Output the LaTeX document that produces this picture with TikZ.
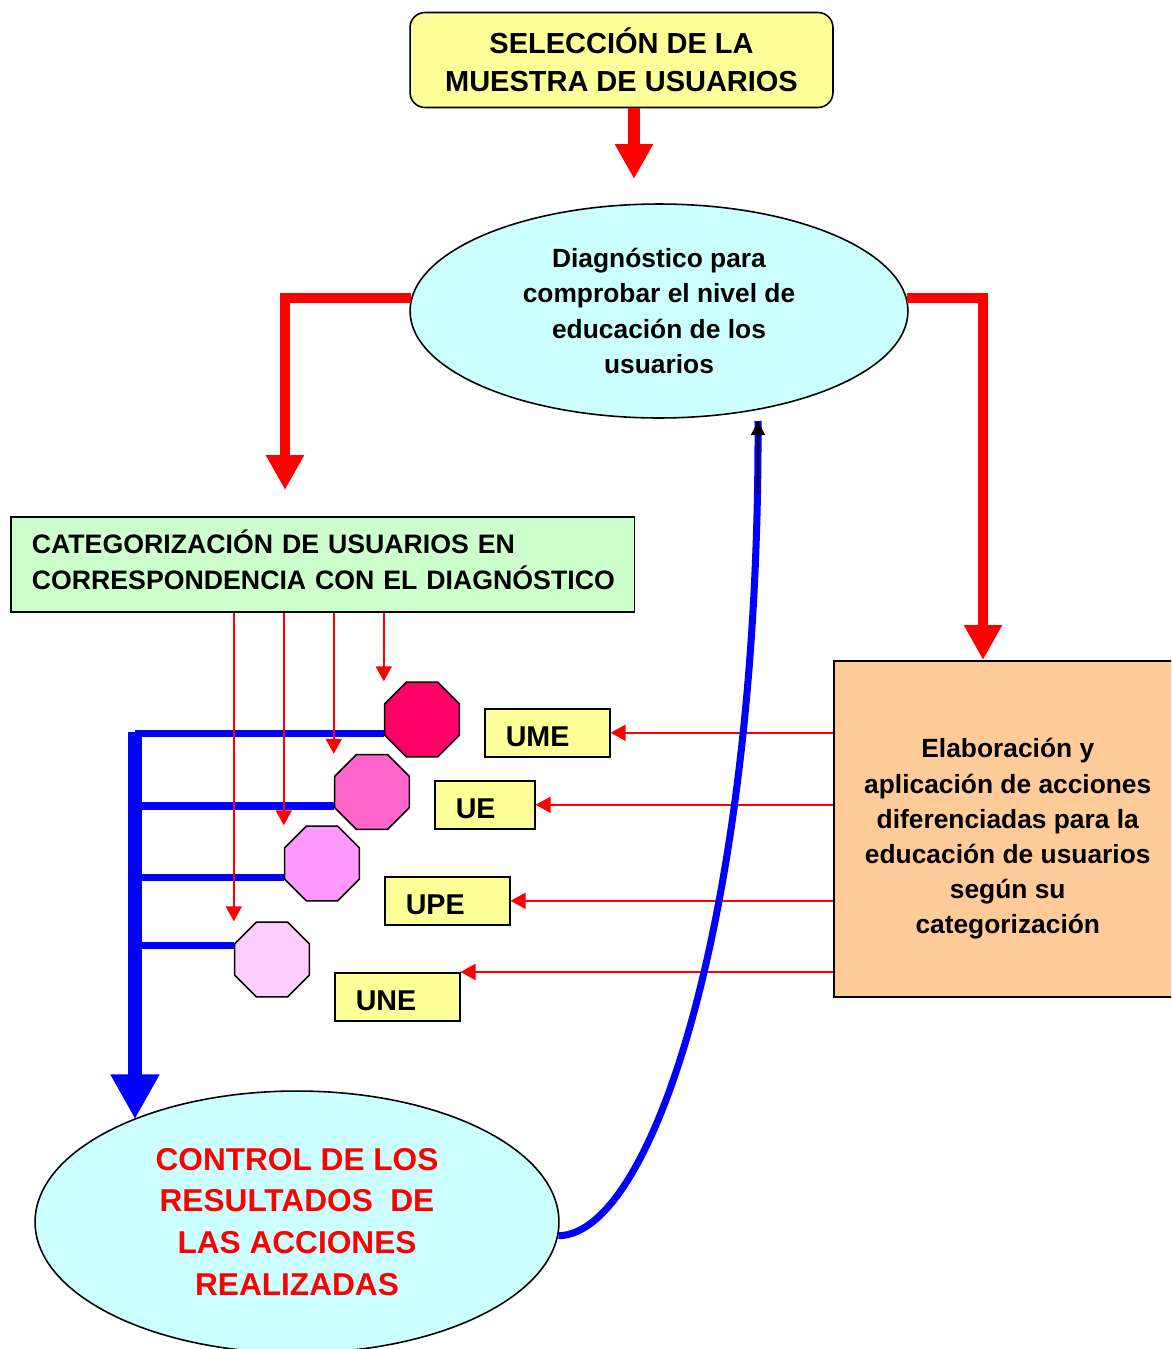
\documentclass[tikz,border=0pt]{standalone}
\usepackage{fontspec}
\setmainfont{Liberation Sans}
\usetikzlibrary{shapes.geometric,arrows.meta}
\definecolor{selyellow}{HTML}{FFFF99}
\definecolor{skyfill}{HTML}{CCFFFF}
\definecolor{catgreen}{HTML}{CCFFCC}
\definecolor{elabfill}{HTML}{FFCC99}
\definecolor{octa}{HTML}{FF0066}
\definecolor{octb}{HTML}{FF66CC}
\definecolor{octc}{HTML}{FF99FF}
\definecolor{octd}{HTML}{FFCCFF}

\begin{document}
\begin{tikzpicture}[x=0.02cm,y=-0.02cm,
  box/.style={draw=black,line width=0.9pt,inner sep=0pt},
  oct/.style={box,regular polygon,regular polygon sides=8,minimum size=1.62cm},
  lab/.style={box,fill=selyellow,anchor=north west,minimum height=0.96cm,text width=1.66cm,inner xsep=0.42cm,
    align=left,text height=15.9pt,text depth=0pt,font=\bfseries\fontsize{16.3}{19}\selectfont},
  bigred/.style={draw=red,line width=5.7pt,-{Triangle[width=0.72cm,length=0.7cm]}},
  thinred/.style={draw=red,line width=1.1pt,-{Triangle[width=0.32cm,length=0.3cm]}},
  bluebar/.style={draw=blue,line width=8.5pt,-{Triangle[width=0.92cm,length=0.9cm]}},
  bluebranch/.style={draw=blue,line width=4.4pt},
  bluecurve/.style={draw=blue,line width=4pt}]
  \useasboundingbox (0,0) rectangle (1171,1349);
  \clip (0,0) rectangle (1171,1349);

  \node[box,rounded corners=0.3cm,fill=selyellow,minimum width=8.46cm,minimum height=1.9cm,align=center,
    font=\bfseries\fontsize{16.5}{21.5}\selectfont] (sel) at (621.5,60) {SELECCIÓN DE LA\\MUESTRA DE USUARIOS};
  \node[box,ellipse,fill=skyfill,minimum width=9.96cm,minimum height=4.28cm,align=center,
    font=\bfseries\fontsize{15}{20.1}\selectfont] (diag) at (659,311) {Diagnóstico para\\comprobar el nivel de\\educación de los\\usuarios};
  \node[box,fill=catgreen,anchor=north west,minimum height=1.9cm,text width=11.64cm,inner xsep=0.42cm,
    font=\bfseries\fontsize{15.2}{20.4}\selectfont] (cat) at (10,516)
    {\begin{tabular}{@{}l@{}}CATEGORIZACIÓN DE USUARIOS EN\\CORRESPONDENCIA CON EL DIAGNÓSTICO\end{tabular}};
  \node[box,fill=elabfill,anchor=north west,minimum width=6.96cm,minimum height=6.72cm,
    font=\bfseries\fontsize{15}{20}\selectfont] (elab) at (833,660)
    {\raisebox{-5.7pt}[\height][\depth]{\begin{tabular}{@{}c@{}}Elaboración y\\aplicación de acciones\\diferenciadas para la\\educación de usuarios\\según su\\categorización\end{tabular}}};
  \node[box,ellipse,fill=skyfill,minimum width=10.48cm,minimum height=5.24cm,align=center,text=red,
    font=\bfseries\fontsize{18}{23.8}\selectfont] (ctrl) at (297,1222) {CONTROL DE LOS\\RESULTADOS\ \ DE\\LAS ACCIONES\\REALIZADAS};

  \node[oct,fill=octa] (o1) at (422,719.5) {}; \node[oct,fill=octb] (o2) at (372,792) {};
  \node[oct,fill=octc] (o3) at (322,863.5) {}; \node[oct,fill=octd] (o4) at (272,959.5) {};
  \node[lab] (ume) at (484,708) {UME}; \node[lab,text width=1.16cm] (ue) at (434,780) {UE};
  \node[lab] (upe) at (384,876) {UPE}; \node[lab] (une) at (334,972) {UNE};

  \coordinate (toptip) at (634,179); \coordinate (lefttip) at (285,490); \coordinate (righttip) at (983,660);
  \coordinate (vtop) at (135,732); \coordinate (fb) at (758,421); \coordinate (fbs) at (758,493);

  \draw[bigred,line width=6.8pt] (sel.south -| toptip) -- (toptip);
  \draw[bigred] (diag.177) -| (lefttip);
  \draw[bigred] (diag.3) -| (righttip);

  \draw[bluebar] (vtop) -- (vtop |- ctrl.148);
  \foreach \o/\a in {o1/200,o2/200,o3/200,o4/160} \draw[bluebranch] (\o.\a) -- (\o.\a -| vtop);

  \foreach \o in {o1,o2,o3,o4} \draw[thinred] (cat.south -| \o.west) -- (\o.north -| \o.west);
  \foreach \l in {ume,ue,upe} \draw[thinred] (elab.west |- \l.east) -- (\l.east);
  \draw[thinred] (elab.west |- une.north east) -- (une.north east);

  \draw[bluecurve] (ctrl.-3) .. controls (655,1235) and (760,900) .. (fb);
  \draw[line width=0.8pt,-{Triangle[width=0.28cm,length=0.28cm]}] (fbs) -- (fb);
\end{tikzpicture}
\end{document}
